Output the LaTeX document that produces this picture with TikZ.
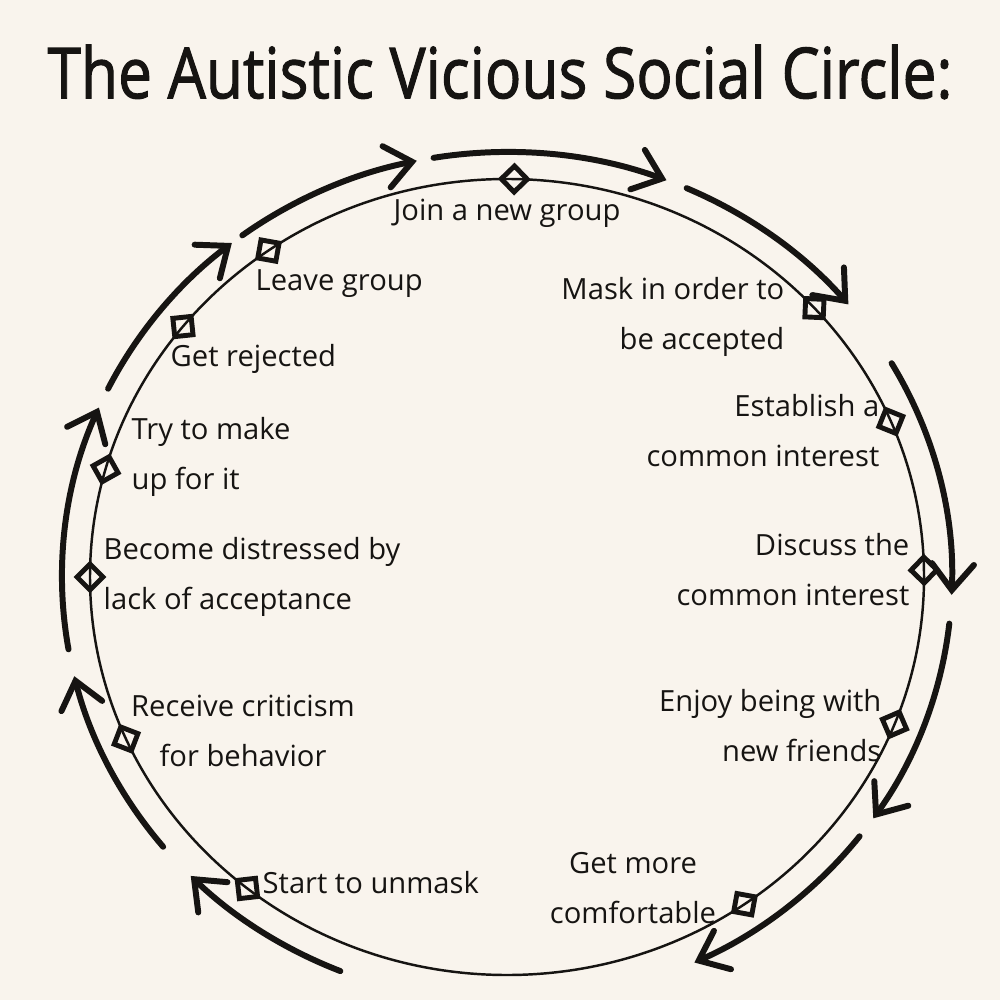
\documentclass[tikz,border=0pt]{standalone}
\usepackage{fontspec}
\setmainfont{Open Sans}
\usetikzlibrary{arrows.meta,shapes.geometric,calc}

\definecolor{paper}{RGB}{249,244,237}
\definecolor{ink}{RGB}{22,20,18}

\tikzset{
  flow/.style={ink, line width=1.7pt, line cap=round,
    -{Straight Barb[length=2.6mm,width=4.2mm,line cap=round]}},
  waypt/.style={diamond, draw=ink, line width=1.4pt, minimum size=2.8mm, inner sep=0pt},
  lbl/.style={text=ink, inner sep=0pt, font=\fontsize{8.3}{14.2}\selectfont},
  heading/.style={text=ink, font=\fontsize{20}{22}\selectfont\addfontfeature{FakeBold=1.6}},
}

\begin{document}
\begin{tikzpicture}
  % paper
  \fill[paper] (0,0) rectangle (10,-10);
  \useasboundingbox (0,0) rectangle (10,-10);

  \coordinate (C) at (5.07,-5.77);

  % title
  \node[heading] (head) at (5.0,-0.72) {\scalebox{0.86}[1]{The Autistic Vicious Social Circle:}};

  % inner circle
  \draw[ink, line width=0.7pt] (C) ellipse (4.17cm and 3.98cm);

  % steps on the circle
  \foreach \t/\n in {89/join,42.5/mask,23/establish,1/discuss,-21.7/enjoy,-55.3/comfy,
                     231.5/unmask,204/critic,180/distress,164.3/makeup,141/reject,124.9/leave}
    \node[waypt, rotate=\t] (\n) at ($(C)+(\t:4.17cm and 3.98cm)$) {};

  % outer arrows
  \foreach \a/\b in {153.7/128.2,126.5/101.7,99.5/69,66.2/39.9,30.2/-2.4,-6.3/-34.6,
                     -37.6/-65.1,248/224.7,219.4/193.5,189.8/156.5}
    \draw[flow] ($(C)+(\a:4.45cm and 4.25cm)$)
      arc[start angle=\a, end angle=\b, x radius=4.45cm, y radius=4.25cm];

  % labels
  \node[lbl] (tjoin) at (5.07,-2.13) {Join a new group};
  \node[lbl, anchor=east, align=right] (tmask) at (7.85,-3.17) {Mask in order to\\be accepted};
  \node[lbl, anchor=east, align=right] (testablish) at (8.80,-4.31) {Establish a\\common interest};
  \node[lbl, anchor=east, align=right] (tdiscuss) at (9.10,-5.70) {Discuss the\\common interest};
  \node[lbl, anchor=east, align=right] (tenjoy) at (8.82,-7.26) {Enjoy being with\\new friends};
  \node[lbl, align=center] (tcomfy) at (6.33,-8.88) {Get more\\comfortable};
  \node[lbl, anchor=west] (tunmask) at (2.62,-8.83) {Start to unmask};
  \node[lbl, align=center] (tcritic) at (2.43,-7.31) {Receive criticism\\for behavior};
  \node[lbl, anchor=west, align=left] (tdistress) at (1.03,-5.77) {Become distressed by\\lack of acceptance};
  \node[lbl, anchor=west, align=left] (tmakeup) at (1.31,-4.57) {Try to make\\up for it};
  \node[lbl, anchor=west] (treject) at (1.70,-3.59) {Get rejected};
  \node[lbl, anchor=west] (tleave) at (2.55,-2.84) {Leave group};
\end{tikzpicture}
\end{document}
